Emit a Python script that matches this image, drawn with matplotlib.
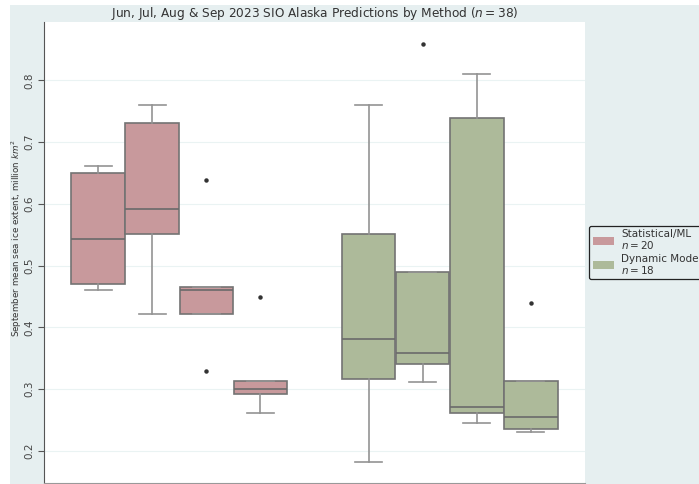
import matplotlib
matplotlib.use("Agg")
import matplotlib.pyplot as plt
from matplotlib.patches import Patch, Rectangle

months = ["Jun", "Jul", "Aug", "Sep"]
methods = ["Statistical/ML", "Dynamic Model"]
method_counts = [20, 18]

# Box summaries per forecast month (Jun, Jul, Aug, Sep), million km^2
stat_whislo = [0.461, 0.421, 0.421, 0.262]
stat_q1 = [0.471, 0.551, 0.421, 0.292]
stat_med = [0.544, 0.591, 0.460, 0.301]
stat_q3 = [0.650, 0.731, 0.466, 0.314]
stat_whishi = [0.661, 0.760, 0.466, 0.314]
stat_fliers = [[], [], [0.639, 0.330], [0.450]]

dyn_whislo = [0.182, 0.311, 0.245, 0.231]
dyn_q1 = [0.317, 0.341, 0.261, 0.236]
dyn_med = [0.381, 0.358, 0.271, 0.2545]
dyn_q3 = [0.551, 0.490, 0.740, 0.313]
dyn_whishi = [0.760, 0.490, 0.810, 0.313]
dyn_fliers = [[], [0.859], [], [0.440]]

method_colors = ["#c8999c", "#adba9a"]
bg_color = "#e6eff0"

fig = plt.figure(figsize=(6.99, 4.84), dpi=100)
fig.patch.set_facecolor("white")
# panel background (leaves a thin white margin at top and left)
fig.patches.append(Rectangle((10 / 699, 0), 1, 1 - 5 / 484, transform=fig.transFigure,
                             facecolor=bg_color, edgecolor="none", zorder=-10))

ax = fig.add_axes([44 / 699, 1 / 484, 541 / 699, 461 / 484])
ax.set_facecolor("white")

groups = [
    (stat_whislo, stat_q1, stat_med, stat_q3, stat_whishi, stat_fliers),
    (dyn_whislo, dyn_q1, dyn_med, dyn_q3, dyn_whishi, dyn_fliers),
]
n_hue = len(months)
box_w = 0.8 / n_hue
for gi, (wlo, q1, med, q3, whi, fl) in enumerate(groups):
    stats = []
    positions = []
    for j in range(n_hue):
        stats.append(dict(whislo=wlo[j], q1=q1[j], med=med[j], q3=q3[j],
                          whishi=whi[j], fliers=fl[j], label=months[j]))
        positions.append(gi - 0.4 + box_w * (j + 0.5))
    ax.bxp(stats, positions=positions, widths=box_w * 0.99, patch_artist=True,
           capwidths=box_w * 0.5, manage_ticks=False,
           boxprops=dict(facecolor=method_colors[gi], edgecolor="#737373", linewidth=1.2),
           medianprops=dict(color="#6a6a6a", linewidth=1.2),
           whiskerprops=dict(color="#939393", linewidth=1.2),
           capprops=dict(color="#939393", linewidth=1.2),
           flierprops=dict(marker="o", markersize=2.2, markerfacecolor="#333333",
                           markeredgecolor="#333333", linestyle="none"))

ax.set_xlim(-0.5, 1.5)
ax.set_ylim(0.148, 0.8947)
ax.set_yticks([0.2, 0.3, 0.4, 0.5, 0.6, 0.7, 0.8])
ax.set_yticklabels(["0.2", "0.3", "0.4", "0.5", "0.6", "0.7", "0.8"], rotation=90, va="center")
ax.set_xticks([])
ax.tick_params(axis="y", labelsize=7.5, length=4, width=0.8, color="#555555",
               labelcolor="#444444", pad=3)
ax.grid(axis="y", color="#eaf3f3", linewidth=0.8)
ax.set_axisbelow(True)
for side in ["top", "right"]:
    ax.spines[side].set_visible(False)
ax.spines["left"].set_color("#555555")
ax.spines["bottom"].set_color("#999999")

ax.set_ylabel("September mean sea ice extent, million $km^2$", fontsize=6.3,
              color="#333333", labelpad=3)
ax.yaxis.set_label_coords(-0.037, 0.53)
ax.set_title("Jun, Jul, Aug & Sep 2023 SIO Alaska Predictions by Method ($n = 38$)",
             fontsize=8.7, color="#333333", pad=3)

handles = [Patch(facecolor=c, edgecolor="none") for c in method_colors]
labels = [f"{m}\n$n = {n}$" for m, n in zip(methods, method_counts)]
leg = ax.legend(handles, labels, loc="center left", bbox_to_anchor=(1.008, 0.5),
                fontsize=7.5, frameon=True, fancybox=True, borderaxespad=0,
                handlelength=2.0, handleheight=0.8, handletextpad=0.7,
                labelspacing=0.25, borderpad=0.35)
leg.get_frame().set_edgecolor("#222222")
leg.get_frame().set_linewidth(0.9)
leg.get_frame().set_facecolor(bg_color)
leg.get_frame().set_alpha(1)
for t in leg.get_texts():
    t.set_color("#333333")
    t.set_linespacing(1.0)

fig.savefig("out.png", dpi=100, facecolor=fig.get_facecolor())
